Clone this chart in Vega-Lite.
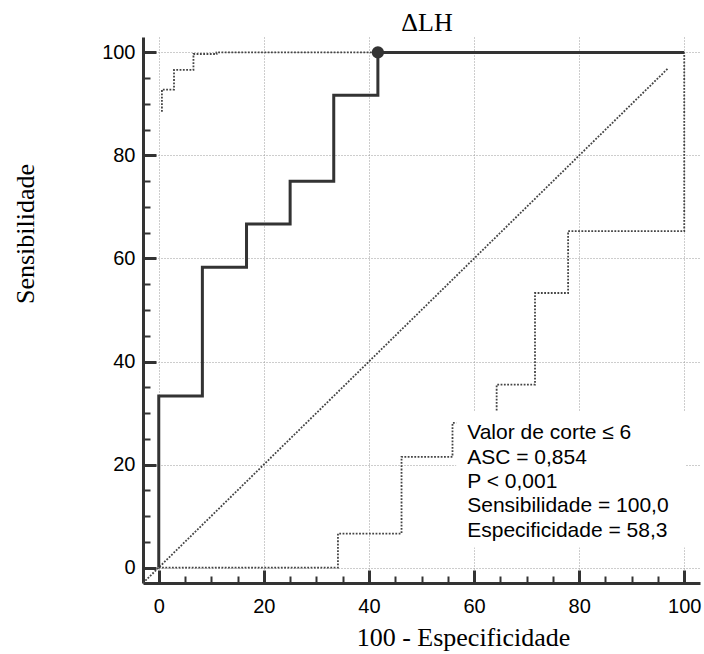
{
  "$schema": "https://vega.github.io/schema/vega-lite/v6.json",
  "width": 557,
  "height": 546,
  "autosize": {"type": "none"},
  "padding": {"left": 143, "top": 37, "right": 4, "bottom": 71},
  "background": "white",
  "title": {"text": "ΔLH", "font": "Liberation Serif", "fontSize": 26, "fontWeight": "normal", "color": "black", "anchor": "middle", "frame": "group", "dx": 5.5, "dy": 25, "offset": 5, "baseline": "alphabetic"},
  "config": {
    "view": {"stroke": null},
    "axis": {"labelFlush": false, "labelOverlap": false}
  },
  "datasets": {
    "curves": [
      {"series": "diag", "x": -3, "y": -3},
      {"series": "diag", "x": 97, "y": 97},
      {"series": "roc", "x": 0, "y": 0},
      {"series": "roc", "x": 0, "y": 33.3},
      {"series": "roc", "x": 8.3, "y": 58.3},
      {"series": "roc", "x": 16.7, "y": 66.7},
      {"series": "roc", "x": 25, "y": 75},
      {"series": "roc", "x": 33.3, "y": 91.7},
      {"series": "roc", "x": 41.7, "y": 100},
      {"series": "roc", "x": 100, "y": 100},
      {"series": "lower", "x": 0, "y": 0},
      {"series": "lower", "x": 34.1, "y": 6.6},
      {"series": "lower", "x": 46.2, "y": 21.5},
      {"series": "lower", "x": 55.9, "y": 28.1},
      {"series": "lower", "x": 64.3, "y": 35.5},
      {"series": "lower", "x": 71.6, "y": 53.3},
      {"series": "lower", "x": 77.9, "y": 65.3},
      {"series": "lower", "x": 100, "y": 100},
      {"series": "upper", "x": 0.6, "y": 88.5},
      {"series": "upper", "x": 0.6, "y": 92.8},
      {"series": "upper", "x": 2.9, "y": 96.6},
      {"series": "upper", "x": 6.6, "y": 99.7},
      {"series": "upper", "x": 11, "y": 100},
      {"series": "upper", "x": 100, "y": 100},
      {"series": "cut", "x": 41.7, "y": 100}
    ],
    "note": [
      {"label": "cutoff"}
    ]
  },
  "resolve": {"axis": {"x": "independent", "y": "independent"}},
  "layer": [
    {
      "data": {"name": "curves"},
      "transform": [{"filter": "datum.series == 'diag'"}],
      "mark": {"type": "line", "color": "#444444", "strokeWidth": 1.8, "strokeDash": [1.8, 1.5]},
      "encoding": {
        "x": {"field": "x", "type": "quantitative",
          "scale": {"domain": [-3, 103], "nice": false, "zero": false},
          "axis": {"orient": "bottom", "values": [0, 20, 40, 60, 80, 100], "tickSize": -13, "tickWidth": 3, "tickColor": "#333333",
            "domainColor": "#333333", "domainWidth": 3, "grid": true, "gridColor": "#9a9a9a", "gridDash": [1, 2], "gridWidth": 1,
            "labelFont": "Liberation Sans", "labelFontSize": 20, "labelColor": "black", "labelPadding": 26,
            "title": "100 - Especificidade", "titleFont": "Liberation Serif", "titleFontSize": 26, "titleFontWeight": "normal", "titleColor": "black",
            "titleX": 320, "titleY": 62.5, "titleBaseline": "alphabetic", "titleAlign": "center", "titleAnchor": null}},
        "y": {"field": "y", "type": "quantitative",
          "scale": {"domain": [-3, 103], "nice": false, "zero": false},
          "axis": {"orient": "left", "values": [0, 20, 40, 60, 80, 100], "tickSize": -13, "tickWidth": 3, "tickColor": "#333333",
            "domainColor": "#333333", "domainWidth": 3, "grid": true, "gridColor": "#9a9a9a", "gridDash": [1, 2], "gridWidth": 1,
            "labelFont": "Liberation Sans", "labelFontSize": 20, "labelColor": "black", "labelPadding": 21,
            "title": "Sensibilidade", "titleFont": "Liberation Serif", "titleFontSize": 26, "titleFontWeight": "normal", "titleColor": "black",
            "titleX": -109.5, "titleY": 196.5, "titleAngle": 270, "titleBaseline": "alphabetic", "titleAlign": "center", "titleAnchor": null}}
      }
    },
    {
      "data": {"name": "curves"},
      "transform": [{"filter": "datum.series == 'lower'"}],
      "mark": {"type": "line", "interpolate": "step-after", "color": "#444444", "strokeWidth": 1.8, "strokeDash": [1.8, 1.5]},
      "encoding": {
        "x": {"field": "x", "type": "quantitative",
          "axis": {"orient": "bottom", "values": [5, 10, 15, 25, 30, 35, 45, 50, 55, 65, 70, 75, 85, 90, 95], "tickSize": -7, "tickWidth": 2, "tickColor": "#333333",
            "domain": false, "grid": false, "labels": false, "title": null}},
        "y": {"field": "y", "type": "quantitative",
          "axis": {"orient": "left", "values": [5, 10, 15, 25, 30, 35, 45, 50, 55, 65, 70, 75, 85, 90, 95], "tickSize": -7, "tickWidth": 2, "tickColor": "#333333",
            "domain": false, "grid": false, "labels": false, "title": null}},
        "order": [{"field": "y", "type": "quantitative"}, {"field": "x", "type": "quantitative"}]
      }
    },
    {
      "data": {"name": "curves"},
      "transform": [{"filter": "datum.series == 'upper'"}],
      "mark": {"type": "line", "interpolate": "step-after", "color": "#444444", "strokeWidth": 1.8, "strokeDash": [1.8, 1.5]},
      "encoding": {
        "x": {"field": "x", "type": "quantitative", "axis": null},
        "y": {"field": "y", "type": "quantitative", "axis": null},
        "order": [{"field": "y", "type": "quantitative"}, {"field": "x", "type": "quantitative"}]
      }
    },
    {
      "data": {"name": "note"},
      "mark": {"type": "rect", "fill": "white", "stroke": null},
      "encoding": {
        "x": {"datum": 56.6, "type": "quantitative", "axis": null},
        "x2": {"datum": 100.3},
        "y": {"datum": 3.9, "type": "quantitative", "axis": null},
        "y2": {"datum": 30.2}
      }
    },
    {
      "data": {"name": "curves"},
      "transform": [{"filter": "datum.series == 'roc'"}],
      "mark": {"type": "line", "interpolate": "step-after", "color": "#333333", "strokeWidth": 3},
      "encoding": {
        "x": {"field": "x", "type": "quantitative", "axis": null},
        "y": {"field": "y", "type": "quantitative", "axis": null},
        "order": [{"field": "y", "type": "quantitative"}, {"field": "x", "type": "quantitative"}]
      }
    },
    {
      "data": {"name": "curves"},
      "transform": [{"filter": "datum.series == 'cut'"}],
      "mark": {"type": "point", "filled": true, "shape": "circle", "size": 150, "color": "#333333", "opacity": 1},
      "encoding": {
        "x": {"field": "x", "type": "quantitative", "axis": null},
        "y": {"field": "y", "type": "quantitative", "axis": null}
      }
    },
    {
      "data": {"name": "note"},
      "mark": {"type": "text", "align": "left", "baseline": "alphabetic", "font": "Liberation Sans", "fontSize": 21, "lineHeight": 24.4, "color": "black"},
      "encoding": {
        "x": {"datum": 58.7, "type": "quantitative", "axis": null},
        "y": {"datum": 24.9, "type": "quantitative", "axis": null},
        "text": {"value": ["Valor de corte ≤ 6", "ASC = 0,854", "P < 0,001", "Sensibilidade = 100,0", "Especificidade = 58,3"]}
      }
    }
  ]
}
